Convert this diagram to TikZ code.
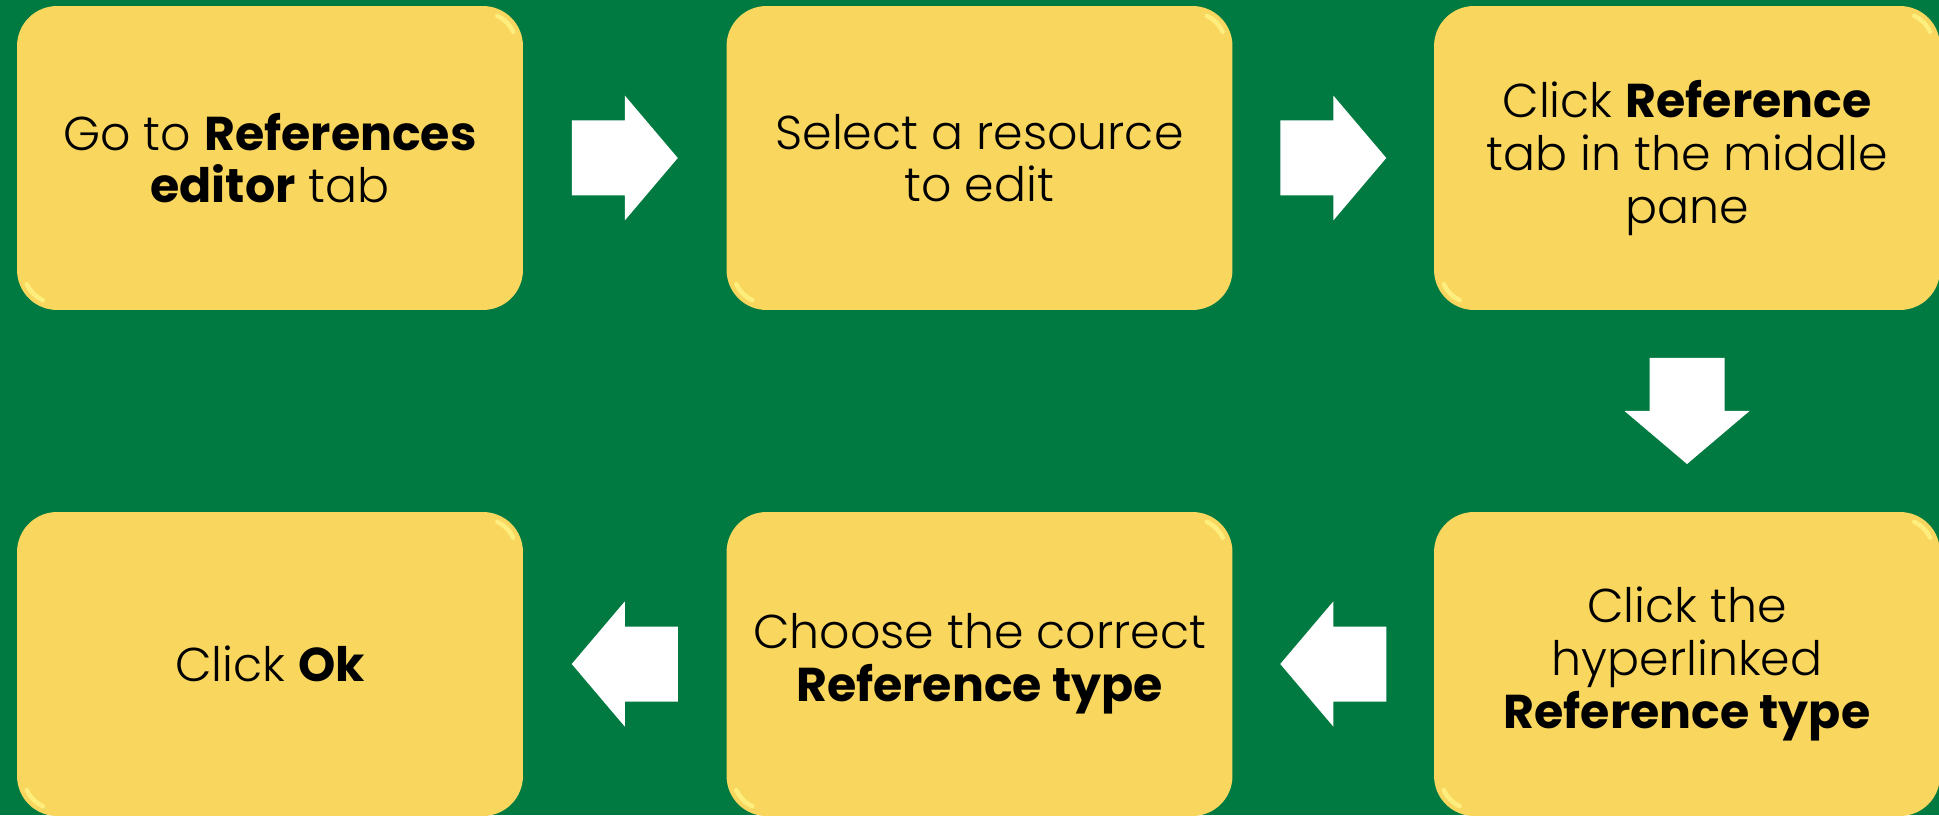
\documentclass[tikz,border=0pt]{standalone}
\usepackage{fontspec}
\setmainfont{Poppins}[UprightFont=* Light, BoldFont=* Bold]
\usetikzlibrary{calc}

\begin{document}
\begin{tikzpicture}[x=0.02cm,y=0.02cm]
\definecolor{bgGreen}{RGB}{0,122,64}
\definecolor{boxYellow}{RGB}{249,214,94}
\tikzset{stepbox/.style={fill=boxYellow, rounded corners=0.8cm, minimum width=10.12cm, minimum height=6.08cm, inner sep=0pt, align=center, font=\fontsize{27}{30}\selectfont},
  gloss/.style={line width=0.09cm, line cap=round, color=yellow!45!white, opacity=0.7},
  blockarrow/.pic={\fill[white] (-53,-37.5) -- (0,-37.5) -- (0,-62.5) -- (53,0) -- (0,62.5) -- (0,37.5) -- (-53,37.5) -- cycle;}}
\fill[bgGreen] (0,0) rectangle (1939,815);
\useasboundingbox (0,0) rectangle (1939,815);
\node[stepbox] (goTo) at (270,657) {Go to \textbf{References}\\\textbf{editor} tab};
\node[stepbox] (select) at (979.5,657) {Select a resource\\to edit};
\node[stepbox] (refTab) at (1687,657) {Click \textbf{Reference}\\tab in the middle\\pane};
\node[stepbox] (hyper) at (1687,151) {Click the\\hyperlinked\\\textbf{Reference type}};
\node[stepbox] (choose) at (979.5,151) {Choose the correct\\\textbf{Reference type}};
\node[stepbox] (ok) at (270,151) {Click \textbf{Ok}};
% shiny corners
\foreach \n in {goTo,select,refTab,hyper,choose,ok} {
  \draw[gloss] ($(\n.north east)+(-40,-40)$) ++(25:0.66cm) arc[start angle=25, end angle=65, radius=0.66cm];
  \draw[gloss] ($(\n.south west)+(40,40)$) ++(205:0.66cm) arc[start angle=205, end angle=245, radius=0.66cm];
}
\foreach \from/\to/\rot in {goTo/select/0, select/refTab/0, refTab/hyper/-90, hyper/choose/180, choose/ok/180}
  \pic[rotate=\rot] at ($(\from)!0.5!(\to)$) {blockarrow};
\end{tikzpicture}
\end{document}
